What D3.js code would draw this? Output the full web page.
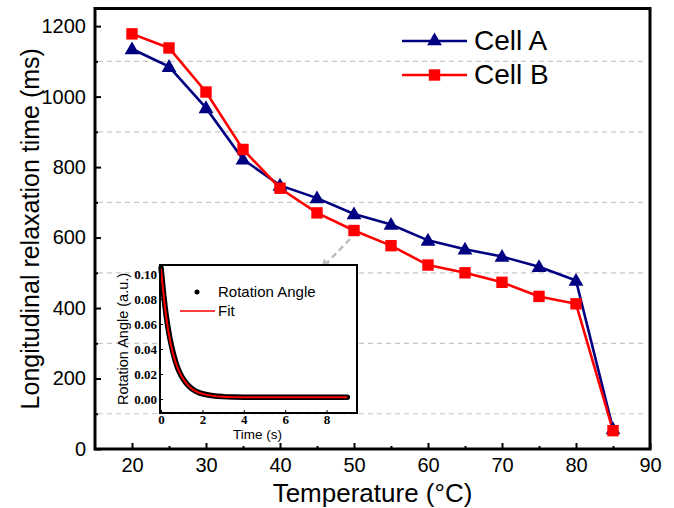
<!DOCTYPE html>
<html>
<head>
<meta charset="utf-8">
<script src="https://cdn.jsdelivr.net/npm/d3@7"></script>
<style>
  body { margin: 0; background: #fff; }
  svg text { font-family: Arial, "Liberation Sans", sans-serif; }
</style>
</head>
<body>
<div id="chart"></div>
<script>
// main chart data
var temps = [20, 25, 30, 35, 40, 45, 50, 55, 60, 65, 70, 75, 80, 85];
var cellA = [1135, 1085, 968, 822, 748, 712, 667, 637, 592, 567, 546, 517, 478, 57];
var cellB = [1178, 1138, 1013, 850, 740, 670, 620, 577, 522, 500, 473, 433, 412, 52];
var xTicks = [20, 30, 40, 50, 60, 70, 80, 90];
var yTicks = [0, 200, 400, 600, 800, 1000, 1200];
var gridVals = [100, 300, 500, 700, 900, 1100];

// inset data
var insetTime = [0, 0.1, 0.2, 0.3, 0.4, 0.5, 0.6, 0.8, 1.0, 1.2, 1.4, 1.6, 1.8, 2.0, 2.5, 3, 3.5, 4, 5, 6, 7, 8, 9];
var insetAngle = [0.105, 0.088, 0.073, 0.061, 0.051, 0.043, 0.036, 0.025, 0.018, 0.013, 0.0095, 0.007, 0.0053, 0.0042,
                  0.0026, 0.0019, 0.0016, 0.0015, 0.0015, 0.0015, 0.0015, 0.0015, 0.0015];
var insetFit = [0.104, 0.087, 0.072, 0.060, 0.050, 0.042, 0.035, 0.025, 0.018, 0.013, 0.0093, 0.0069, 0.0052, 0.0041,
                0.0025, 0.0018, 0.0015, 0.0014, 0.0014, 0.0014, 0.0014, 0.0014, 0.0014];
var insetXTicks = [0, 2, 4, 6, 8];
var insetYTicks = [0, 0.02, 0.04, 0.06, 0.08, 0.10];

var W = 674, H = 508;
var L = 95, R = 650, T = 8.5, B = 449;

var svg = d3.select("#chart").append("svg").attr("width", W).attr("height", H);

var x = d3.scaleLinear().domain([15, 90]).range([L, R]);
var y = d3.scaleLinear().domain([0, 1250]).range([B, T]);

// dashed grid lines at the minor values
svg.append("g").selectAll("line").data(gridVals).enter().append("line")
  .attr("x1", L + 3).attr("x2", R - 4)
  .attr("y1", function (d) { return y(d); }).attr("y2", function (d) { return y(d); })
  .attr("stroke", "#c8c8c8").attr("stroke-width", 1.2).attr("stroke-dasharray", "5,4");

// axes
var xAxis = svg.append("g").attr("transform", "translate(0," + B + ")")
  .call(d3.axisBottom(x).tickValues(xTicks).tickSize(-6).tickPadding(9).tickFormat(d3.format("d")));
var xMinor = svg.append("g").attr("transform", "translate(0," + B + ")")
  .call(d3.axisBottom(x).tickValues([25, 35, 45, 55, 65, 75, 85]).tickSize(-3).tickFormat(""));
var yAxis = svg.append("g").attr("transform", "translate(" + L + ",0)")
  .call(d3.axisLeft(y).tickValues(yTicks).tickSize(-6).tickPadding(9).tickFormat(d3.format("d")));
var yMinor = svg.append("g").attr("transform", "translate(" + L + ",0)")
  .call(d3.axisLeft(y).tickValues(gridVals).tickSize(-3).tickFormat(""));

[xAxis, xMinor, yAxis, yMinor].forEach(function (g) {
  g.select(".domain").remove();
  g.selectAll(".tick line").attr("stroke", "#000").attr("stroke-width", 2);
  g.selectAll(".tick text").attr("font-size", 20).attr("fill", "#000")
    .style("font-family", "Arial, 'Liberation Sans', sans-serif");
});

// frame
svg.append("rect").attr("x", L).attr("y", T).attr("width", R - L).attr("height", B - T)
  .attr("fill", "none").attr("stroke", "#000").attr("stroke-width", 3);

// axis titles
svg.append("text").attr("x", (L + R) / 2).attr("y", 502).attr("text-anchor", "middle")
  .attr("font-size", 26).text("Temperature (°C)");
svg.append("text").attr("transform", "translate(39," + ((T + B) / 2) + ") rotate(-90)")
  .attr("text-anchor", "middle").attr("font-size", 25).text("Longitudinal relaxation time (ms)");

// series
var line = d3.line().x(function (d) { return x(d[0]); }).y(function (d) { return y(d[1]); });
var dataA = temps.map(function (t, i) { return [t, cellA[i]]; });
var dataB = temps.map(function (t, i) { return [t, cellB[i]]; });

svg.append("path").datum(dataA).attr("d", line).attr("fill", "none")
  .attr("stroke", "#000080").attr("stroke-width", 2.6);
svg.append("path").datum(dataB).attr("d", line).attr("fill", "none")
  .attr("stroke", "#ff0000").attr("stroke-width", 2.6);

var tri = d3.symbol().type(d3.symbolTriangle).size(95);
var sq = d3.symbol().type(d3.symbolSquare).size(130);

svg.append("g").selectAll("path").data(dataA).enter().append("path")
  .attr("d", tri).attr("transform", function (d) { return "translate(" + x(d[0]) + "," + (y(d[1]) + 1) + ")"; })
  .attr("fill", "#000080");
svg.append("g").selectAll("path").data(dataB).enter().append("path")
  .attr("d", sq).attr("transform", function (d) { return "translate(" + x(d[0]) + "," + y(d[1]) + ")"; })
  .attr("fill", "#ff0000");

// legend
var leg = [
  { name: "Cell A", color: "#000080", sym: tri, yy: 41 },
  { name: "Cell B", color: "#ff0000", sym: sq, yy: 75 }
];
leg.forEach(function (l) {
  svg.append("line").attr("x1", 402).attr("x2", 467).attr("y1", l.yy).attr("y2", l.yy)
    .attr("stroke", l.color).attr("stroke-width", 2.6);
  svg.append("path").attr("d", l.sym).attr("transform", "translate(434.5," + l.yy + ")").attr("fill", l.color);
  svg.append("text").attr("x", 474).attr("y", l.yy + 9).attr("font-size", 28).text(l.name);
});

// pointer arrow to the inset
svg.append("defs").append("marker").attr("id", "arr").attr("viewBox", "0 0 10 10")
  .attr("refX", 8).attr("refY", 5).attr("markerWidth", 4).attr("markerHeight", 4).attr("orient", "auto")
  .append("path").attr("d", "M0,0 L10,5 L0,10 z").attr("fill", "#bdbdbd");
svg.append("line").attr("x1", 350).attr("y1", 239).attr("x2", 322).attr("y2", 268)
  .attr("stroke", "#bdbdbd").attr("stroke-width", 2.5).attr("stroke-dasharray", "6,4")
  .attr("marker-end", "url(#arr)");

// inset
var iL = 160, iR = 357, iT = 265, iB = 413;
var ix = d3.scaleLinear().domain([-0.05, 9.47]).range([iL, iR]);
var iy = d3.scaleLinear().domain([-0.0112, 0.1072]).range([iB, iT]);

var inset = svg.append("g");
inset.append("rect").attr("x", iL).attr("y", iT).attr("width", iR - iL).attr("height", iB - iT)
  .attr("fill", "#fff");

var ixAxis = inset.append("g").attr("transform", "translate(0," + iB + ")")
  .call(d3.axisBottom(ix).tickValues(insetXTicks).tickSize(-3).tickPadding(2).tickFormat(d3.format("d")));
var iyAxis = inset.append("g").attr("transform", "translate(" + iL + ",0)")
  .call(d3.axisLeft(iy).tickValues(insetYTicks).tickSize(-3).tickPadding(3).tickFormat(d3.format(".2f")));
[ixAxis, iyAxis].forEach(function (g) {
  g.select(".domain").remove();
  g.selectAll(".tick line").attr("stroke", "#000").attr("stroke-width", 1);
  g.selectAll(".tick text").attr("font-size", 13).attr("font-weight", "bold").attr("fill", "#000")
    .style("font-family", "'Liberation Serif', 'Times New Roman', serif");
});

var iline = d3.line().curve(d3.curveMonotoneX)
  .x(function (d) { return ix(d[0]); }).y(function (d) { return iy(d[1]); });
var angleData = insetTime.map(function (t, i) { return [t, insetAngle[i]]; });
var fitData = insetTime.map(function (t, i) { return [t, insetFit[i]]; });

inset.append("path").datum(angleData).attr("d", iline).attr("fill", "none")
  .attr("stroke", "#000").attr("stroke-width", 5.5).attr("stroke-linecap", "round");
inset.append("path").datum(fitData).attr("d", iline).attr("fill", "none")
  .attr("stroke", "#ff0000").attr("stroke-width", 2);

inset.append("rect").attr("x", iL).attr("y", iT).attr("width", iR - iL).attr("height", iB - iT)
  .attr("fill", "none").attr("stroke", "#000").attr("stroke-width", 2);

// inset legend
inset.append("circle").attr("cx", 197).attr("cy", 292).attr("r", 2.5).attr("fill", "#000");
inset.append("text").attr("x", 218).attr("y", 297).attr("font-size", 15).text("Rotation Angle");
inset.append("line").attr("x1", 180).attr("x2", 215).attr("y1", 311).attr("y2", 311)
  .attr("stroke", "#ff0000").attr("stroke-width", 1.5);
inset.append("text").attr("x", 218).attr("y", 316).attr("font-size", 15).text("Fit");

// inset titles
inset.append("text").attr("x", (iL + iR) / 2 - 1).attr("y", 439).attr("text-anchor", "middle")
  .attr("font-size", 13.5).text("Time (s)");
inset.append("text").attr("transform", "translate(128," + ((iT + iB) / 2) + ") rotate(-90)")
  .attr("text-anchor", "middle").attr("font-size", 14.5).text("Rotation Angle (a.u.)");
</script>
</body>
</html>
